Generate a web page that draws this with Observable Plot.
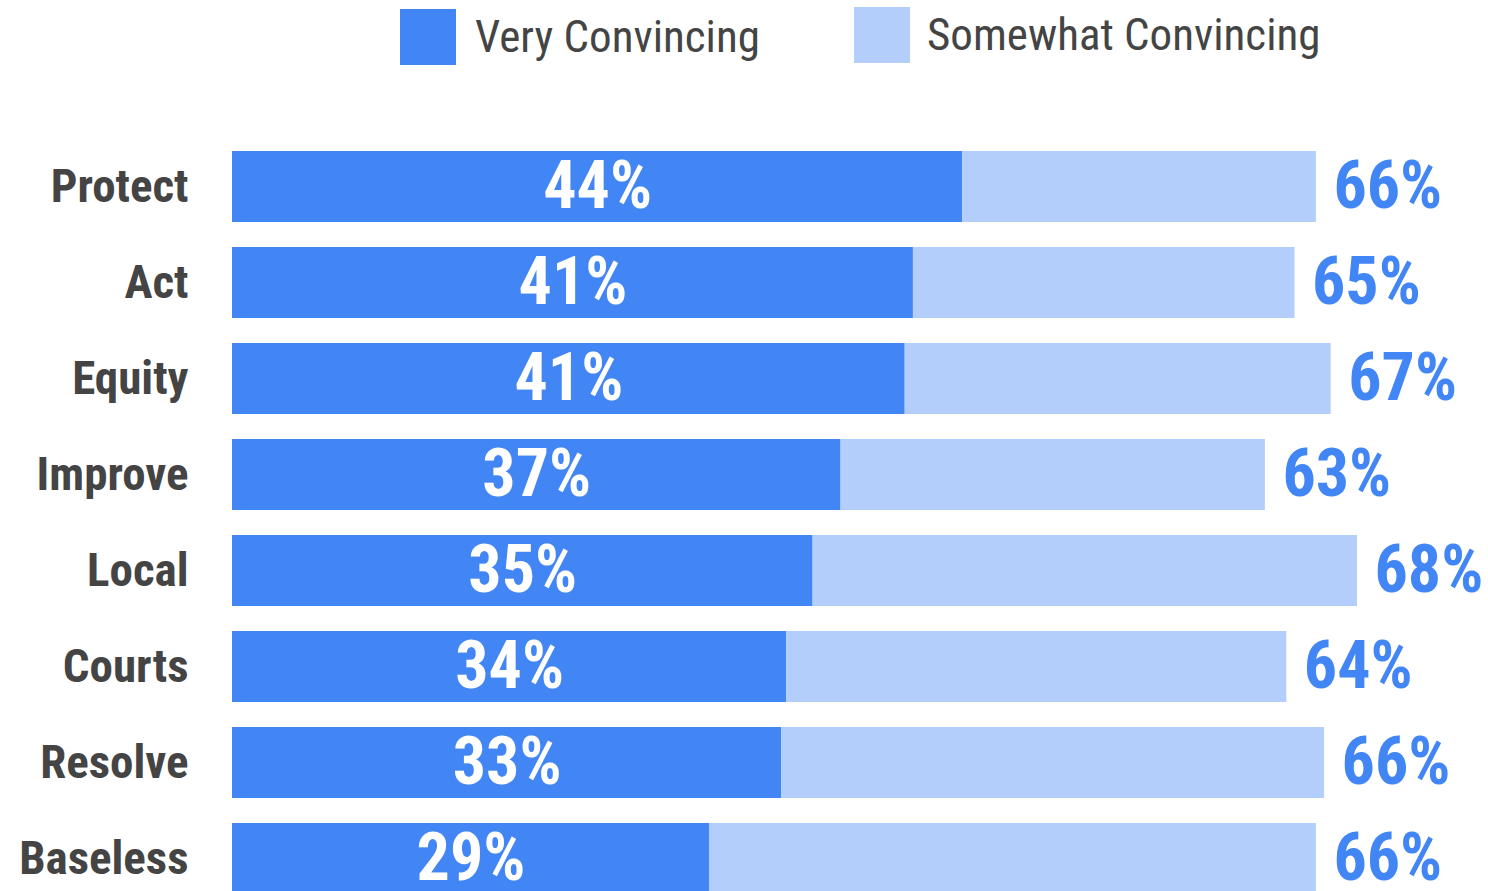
<!DOCTYPE html>
<html>
<head>
<meta charset="utf-8">
<script src="https://cdn.jsdelivr.net/npm/d3@7"></script>
<script src="https://cdn.jsdelivr.net/npm/@observablehq/plot@0.6"></script>
<style>
  html, body { margin: 0; padding: 0; background: #fff; overflow: hidden; }
  body { width: 1488px; height: 891px; font-family: "Liberation Sans Narrow", "Roboto Condensed", "DejaVu Sans Condensed", "DejaVu Sans", sans-serif; font-stretch: condensed; }
  #legend { position: relative; height: 80px; width: 1488px; }
  .sw { position: absolute; width: 56px; height: 56px; }
  .lt { position: absolute; font-size: 45px; line-height: 45px; color: #444; white-space: nowrap; }
</style>
</head>
<body>
<div id="legend"></div>
<div id="chart"></div>
<script>
const categories = ["Protect", "Act", "Equity", "Improve", "Local", "Courts", "Resolve", "Baseless"];
const veryConvincing = [44.4, 41.4, 40.9, 37.0, 35.3, 33.7, 33.4, 29.0];
const totalConvincing = [65.9, 64.6, 66.8, 62.8, 68.4, 64.1, 66.4, 65.9];
const seriesNames = ["Very Convincing", "Somewhat Convincing"];
const seriesColors = ["#4285f4", "#b3cefa"];
const textColor = "#444444";
const fontFamily = '"Liberation Sans Narrow", "Roboto Condensed", "DejaVu Sans Condensed", "DejaVu Sans", sans-serif';

// legend (HTML above the SVG)
const legend = document.getElementById("legend");
const legendPos = [{sx: 400, sy: 9, tx: 475, ty: 14}, {sx: 854, sy: 7, tx: 927, ty: 12}];
seriesNames.forEach((name, i) => {
  const sw = document.createElement("div");
  sw.className = "sw";
  sw.style.left = legendPos[i].sx + "px";
  sw.style.top = legendPos[i].sy + "px";
  sw.style.background = seriesColors[i];
  legend.appendChild(sw);
  const t = document.createElement("div");
  t.className = "lt";
  t.style.left = legendPos[i].tx + "px";
  t.style.top = legendPos[i].ty + "px";
  t.textContent = name;
  legend.appendChild(t);
});

const table = categories.map((c, i) => ({cat: c, very: veryConvincing[i], total: totalConvincing[i]}));
const rows = table.flatMap(d => [
  {cat: d.cat, series: seriesNames[0], value: d.very},
  {cat: d.cat, series: seriesNames[1], value: d.total - d.very}
]);

const chart = Plot.plot({
  width: 1488,
  height: 828,
  marginLeft: 232,
  marginRight: 6,
  marginTop: 57,
  marginBottom: 0,
  style: {fontFamily: fontFamily, background: "#fff", overflow: "visible"},
  x: {domain: [0, 76], axis: null},
  y: {domain: categories, axis: null, paddingInner: 0.2626, paddingOuter: 0.1313, align: 0.5},
  color: {domain: seriesNames, range: seriesColors},
  marks: [
    Plot.barX(rows, {x: "value", y: "cat", fill: "series"}),
    Plot.text(table, {
      x: d => d.very / 2, y: "cat", text: d => Math.round(d.very) + "%",
      fill: "white", fontSize: 66, fontWeight: "bold"
    }),
    Plot.text(table, {
      x: "total", y: "cat", text: d => Math.round(d.total) + "%",
      fill: seriesColors[0], fontSize: 66, fontWeight: "bold", textAnchor: "start", dx: 17
    }),
    Plot.text(table, {
      x: 0, y: "cat", text: "cat",
      fill: textColor, fontSize: 47, fontWeight: "bold", textAnchor: "end", dx: -44
    })
  ]
});
document.getElementById("chart").appendChild(chart);
</script>
</body>
</html>
